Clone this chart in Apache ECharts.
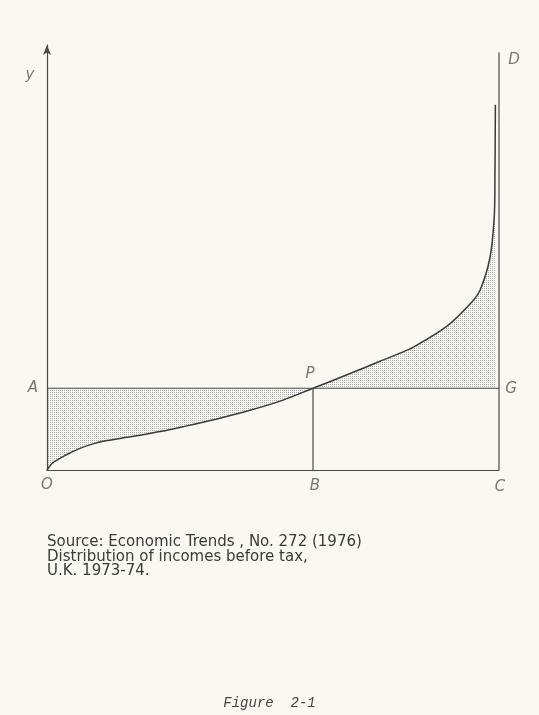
<!DOCTYPE html>
<html>
<head>
<meta charset="utf-8">
<script src="https://cdn.jsdelivr.net/npm/echarts@6/dist/echarts.min.js"></script>
<style>
  html, body { margin: 0; padding: 0; background: #fbf8f1; }
  #chart { width: 539px; height: 715px; }
</style>
</head>
<body>
<div id="chart"></div>
<script>
// share of income recipients (0..100, O -> C) and income relative to mean (A = 1)
const incomeShare = [0, 1.33, 4.42, 7.3, 10.18, 13.27, 17.7, 20.58, 25.0, 30.09, 37.61, 44.91, 52.21,
  58.85, 67.04, 73.67, 78.1, 80.97, 88.5, 93.58, 95.8, 98.01, 98.95, 99.1, 99.2];
const incomeLevel = [0, 0.09, 0.19, 0.265, 0.32, 0.36, 0.4, 0.425, 0.47, 0.53, 0.625, 0.73, 0.855,
  1.0, 1.18, 1.33, 1.43, 1.5, 1.76, 2.03, 2.2, 2.6, 3.1, 3.55, 4.47];

const meanLevel = 1;       // line A-G
const shareAtP = 58.85;    // P / B
const topD = 5.11;         // top of line C-D

// point labels
const pointNames = ['O', 'B', 'C', 'A', 'G', 'P', 'D', 'y'];
const pointX = [0, shareAtP, 100, 0, 100, shareAtP, 100, 0];
const pointY = [0, 0, 0, meanLevel, meanLevel, meanLevel, topD, 4.83];
const labelOffsets = [[0, 15], [2, 16], [1, 17], [-14, 0], [12, 1], [-3, -14], [15, 8], [-17, 0]];

const sourceLines = ['Source: Economic Trends , No. 272 (1976)', 'Distribution of incomes before tax,', 'U.K. 1973-74.'];
const figureCaption = 'Figure  2-1';

const ink = '#4a4a4a';

// stipple pattern for the shaded areas
const dots = document.createElement('canvas');
dots.width = 2;
dots.height = 2;
const dctx = dots.getContext('2d');
dctx.fillStyle = 'rgba(110,110,110,0.55)';
dctx.fillRect(0, 0, 1, 1);

const curve = incomeShare.map((x, i) => [x, incomeLevel[i]]);

const labelFont = {
  fontFamily: 'DejaVu Sans',
  fontStyle: 'italic',
  fontWeight: 200,
  fontSize: 15,
  color: '#555'
};

const chart = echarts.init(document.getElementById('chart'));
chart.setOption({
  backgroundColor: '#fbf8f1',
  animation: false,
  title: [
    {
      text: sourceLines.join('\n'),
      left: 47,
      top: 535,
      padding: 0,
      textStyle: { fontFamily: 'DejaVu Sans', fontWeight: 'normal', fontSize: 15, lineHeight: 14.5, color: '#3a3a3a' }
    },
    {
      text: figureCaption,
      left: 'center',
      top: 696,
      padding: 0,
      textStyle: { fontFamily: 'Liberation Mono', fontStyle: 'italic', fontWeight: 'normal', fontSize: 14, color: '#444' }
    }
  ],
  grid: { left: 47, right: 40, top: 45, bottom: 245 },
  xAxis: {
    type: 'value',
    min: 0,
    max: 100,
    axisLine: { onZero: false, lineStyle: { color: ink, width: 1.2 } },
    axisTick: { show: false },
    axisLabel: { show: false },
    splitLine: { show: false }
  },
  yAxis: {
    type: 'value',
    min: 0,
    max: 5.2,
    axisLine: { show: true, symbol: ['none', 'arrow'], symbolSize: [6, 10], lineStyle: { color: ink, width: 1.2 } },
    axisTick: { show: false },
    axisLabel: { show: false },
    splitLine: { show: false }
  },
  series: [
    {
      // income curve, shaded between it and the mean line
      type: 'line',
      data: curve,
      smooth: 0.3,
      showSymbol: false,
      lineStyle: { color: '#3a3a3a', width: 1.5 },
      areaStyle: { origin: meanLevel, color: { image: dots, repeat: 'repeat' }, opacity: 1 },
      z: 3
    },
    {
      type: 'line',
      data: [[0, meanLevel], [100, meanLevel]],
      showSymbol: false,
      lineStyle: { color: ink, width: 1.2 },
      z: 4
    },
    {
      type: 'line',
      data: [[shareAtP, 0], [shareAtP, meanLevel]],
      showSymbol: false,
      lineStyle: { color: ink, width: 1.2 },
      z: 4
    },
    {
      type: 'line',
      data: [[100, 0], [100, topD]],
      showSymbol: false,
      lineStyle: { color: ink, width: 1.2 },
      z: 4
    },
    {
      type: 'scatter',
      symbolSize: 0,
      data: pointNames.map((n, i) => ({
        value: [pointX[i], pointY[i]],
        name: n,
        label: { offset: labelOffsets[i] }
      })),
      label: {
        show: true,
        position: 'inside',
        formatter: p => p.name,
        ...labelFont
      },
      z: 5
    }
  ]
});
</script>
</body>
</html>
